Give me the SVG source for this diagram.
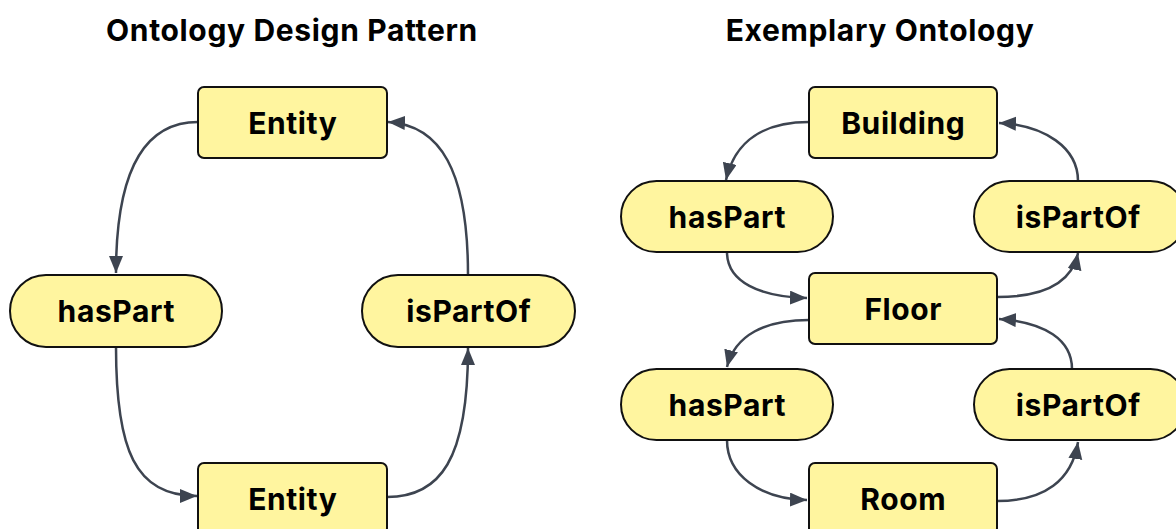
<svg xmlns="http://www.w3.org/2000/svg" width="1176" height="529" viewBox="0 0 1176 529">
<defs>
<style>
.title{font-family:Inter,"Noto Sans","Liberation Sans",sans-serif;font-weight:700;font-size:30px;letter-spacing:0.65px;fill:#000;text-anchor:middle}
.node rect{fill:#fff59f;stroke:#111;stroke-width:2}
.node text{font-family:Inter,"Noto Sans","Liberation Sans",sans-serif;font-weight:700;font-size:30px;letter-spacing:0.6px;fill:#000;text-anchor:middle}
.edge{fill:none;stroke:#3d4450;stroke-width:2.5;marker-end:url(#arr)}
</style>
<marker id="arr" markerUnits="userSpaceOnUse" markerWidth="19" markerHeight="16" refX="17" refY="7" orient="auto">
<path d="M0,0 L17,7 L0,14 Z" fill="#3d4450"/>
</marker>
</defs>
<rect width="1176" height="529" fill="#fff"/>
<text class="title" x="292" y="41">Ontology Design Pattern</text>
<text class="title" x="880" y="41">Exemplary Ontology</text>

<g id="connectors">
<path class="edge" d="M198,122 C145,122 116,170 116,273"/>
<path class="edge" d="M116,347 C116,450 135,496 197,496"/>
<path class="edge" d="M387,497 C440,497 468,460 468,348"/>
<path class="edge" d="M468,275 C468,170 440,125 388,122"/>
<path class="edge" d="M809,122 C765,122 735,140 726,180"/>
<path class="edge" d="M727,252 C727,282 760,297 807,298"/>
<path class="edge" d="M997,297 C1045,297 1072,282 1078,253"/>
<path class="edge" d="M1078,181 C1078,148 1045,125 999,123"/>
<path class="edge" d="M809,320 C765,320 735,335 727,367"/>
<path class="edge" d="M727,440 C727,475 760,499 807,500"/>
<path class="edge" d="M997,501 C1045,501 1072,480 1078,442"/>
<path class="edge" d="M1072,369 C1072,340 1045,322 999,319"/>
</g>

<g id="entity-top" class="node"><rect x="198" y="87" width="189" height="71" rx="6"/><text x="292.8" y="134">Entity</text></g>
<g id="haspart-left" class="node"><rect x="10" y="275" width="212" height="72" rx="36"/><text x="116.3" y="322">hasPart</text></g>
<g id="ispartof-left" class="node"><rect x="362" y="275" width="213" height="72" rx="36"/><text x="468.8" y="322">isPartOf</text></g>
<g id="entity-bottom" class="node"><rect x="198" y="463" width="189" height="71" rx="6"/><text x="292.8" y="510">Entity</text></g>

<g id="building" class="node"><rect x="809" y="87" width="188" height="71" rx="6"/><text x="903.3" y="134">Building</text></g>
<g id="haspart-1" class="node"><rect x="621" y="181" width="212" height="71" rx="35.5"/><text x="727.3" y="228">hasPart</text></g>
<g id="ispartof-1" class="node"><rect x="974" y="181" width="212" height="71" rx="35.5"/><text x="1078.3" y="228">isPartOf</text></g>
<g id="floor" class="node"><rect x="809" y="273" width="188" height="71" rx="6"/><text x="903.3" y="320">Floor</text></g>
<g id="haspart-2" class="node"><rect x="621" y="369" width="212" height="71" rx="35.5"/><text x="727.3" y="416">hasPart</text></g>
<g id="ispartof-2" class="node"><rect x="974" y="369" width="212" height="71" rx="35.5"/><text x="1078.3" y="416">isPartOf</text></g>
<g id="room" class="node"><rect x="809" y="463" width="188" height="71" rx="6"/><text x="903.3" y="510">Room</text></g>
</svg>
